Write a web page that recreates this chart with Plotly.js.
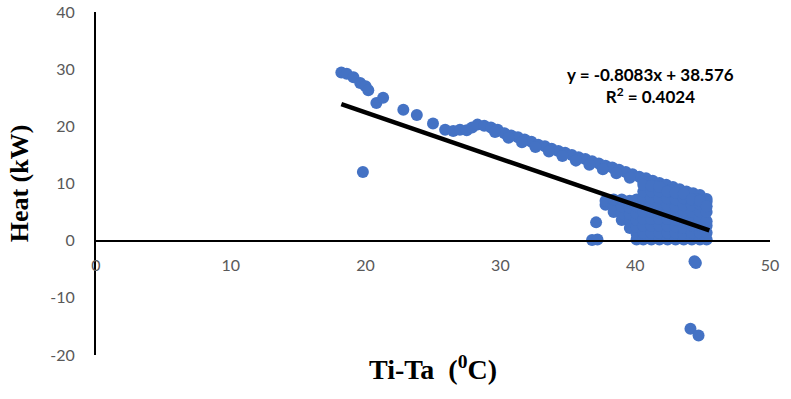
<!DOCTYPE html>
<html>
<head>
<meta charset="utf-8">
<script src="https://cdn.plot.ly/plotly-3.0.1.min.js"></script>
<style>html,body{margin:0;padding:0;background:#fff;}#chart{width:791px;height:399px;}</style>
</head>
<body>
<div id="chart"></div>
<script>
// Ti-Ta (°C) vs Heat (kW)
var sparseX = [18.2, 18.6, 19.1, 19.6, 20.0, 20.2, 20.8, 21.3, 22.8, 23.8, 25.0, 25.9, 26.5, 27.0, 27.5, 27.9, 28.3];
var sparseY = [29.4, 29.2, 28.6, 27.6, 27.0, 26.3, 24.1, 25.0, 22.9, 22.0, 20.5, 19.4, 19.2, 19.4, 19.3, 19.8, 20.3];

var bandX = [28.8, 29.3, 29.8, 30.3, 30.8, 31.3, 31.8, 32.3, 32.8, 33.3, 33.8, 34.3, 34.8, 35.3, 35.8, 36.3, 36.8, 37.3, 37.8, 38.3, 38.8, 39.3, 39.8, 40.3, 40.8, 41.3, 41.8, 42.3, 42.8, 43.3, 43.8, 44.3, 44.8, 45.3,
             29.6, 30.6, 31.6, 32.6, 33.6, 34.6, 35.6, 36.6, 37.6, 38.6, 39.6, 40.6, 41.6, 42.6, 43.6, 44.6, 45.3];
var bandY = [20.1, 19.8, 19.4, 18.8, 18.4, 18.1, 17.7, 17.3, 16.8, 16.5, 16.1, 15.7, 15.4, 15.0, 14.6, 14.3, 13.9, 13.5, 13.1, 12.8, 12.4, 12.0, 11.6, 11.2, 10.9, 10.5, 10.1, 9.8, 9.4, 9.0, 8.6, 8.3, 8.0, 7.3,
             19.0, 18.0, 17.2, 16.4, 15.6, 14.8, 14.0, 13.3, 12.5, 11.8, 11.0, 10.3, 9.5, 8.8, 8.0, 7.3, 6.8];

var clusterX = [37.8, 37.8,
                38.4, 38.4, 38.4,
                39.0, 39.0, 39.0, 39.0,
                39.6, 39.6, 39.6, 39.6, 39.6,
                40.1, 40.1, 40.1, 40.1, 40.1, 40.1, 40.1,
                40.6, 40.6, 40.6, 40.6, 40.6, 40.6, 40.6, 40.6, 40.6,
                41.2, 41.2, 41.2, 41.2, 41.2, 41.2, 41.2, 41.2, 41.2,
                41.8, 41.8, 41.8, 41.8, 41.8, 41.8, 41.8, 41.8, 41.8,
                42.4, 42.4, 42.4, 42.4, 42.4, 42.4, 42.4, 42.4,
                43.0, 43.0, 43.0, 43.0, 43.0, 43.0, 43.0, 43.0,
                43.6, 43.6, 43.6, 43.6, 43.6, 43.6, 43.6, 43.6,
                44.2, 44.2, 44.2, 44.2, 44.2, 44.2, 44.2,
                44.8, 44.8, 44.8, 44.8, 44.8, 44.8, 44.8,
                45.3, 45.3, 45.3, 45.3, 45.3, 45.3];
var clusterY = [6.3, 7.0,
                5.0, 6.2, 7.2,
                3.6, 4.8, 6.0, 7.2,
                2.2, 3.4, 4.6, 5.8, 7.0,
                0.2, 1.2, 2.4, 3.6, 4.8, 6.0, 7.2,
                0.2, 1.4, 2.6, 3.8, 5.0, 6.2, 7.4, 8.6, 9.8,
                0.2, 1.4, 2.6, 3.8, 5.0, 6.2, 7.4, 8.6, 9.6,
                0.2, 1.4, 2.6, 3.8, 5.0, 6.2, 7.4, 8.6, 9.4,
                0.2, 1.4, 2.6, 3.8, 5.0, 6.2, 7.4, 8.6,
                0.2, 1.4, 2.5, 3.6, 4.8, 6.0, 7.2, 8.4,
                0.2, 1.0, 2.2, 4.0, 5.0, 6.2, 7.4, 8.2,
                0.2, 1.4, 2.6, 3.8, 5.0, 6.2, 7.2,
                0.2, 1.4, 2.6, 3.8, 5.1, 6.4, 7.0,
                0.2, 1.4, 2.6, 3.4, 5.0, 6.0];

var outlierX = [19.8, 37.1, 36.8, 37.2, 44.5, 44.4, 44.1, 44.7];
var outlierY = [12.0, 3.2, 0.1, 0.2, -3.9, -3.6, -15.4, -16.6];

// Linear trend line end points (as drawn in the reference)
var trendX = [18.2, 45.5];
var trendY = [23.87, 1.80];

var equationText = 'y = -0.8083x + 38.576<br>R<sup>2</sup> = 0.4024';
var xTicks = [0, 10, 20, 30, 40, 50];
var yTicks = [-20, -10, 0, 10, 20, 30, 40];

var allX = sparseX.concat(bandX, clusterX, outlierX);
var allY = sparseY.concat(bandY, clusterY, outlierY);

var tickFont = {family: 'Lato, "Open Sans", sans-serif', size: 16, color: '#595959'};
var titleFont = {family: '"Liberation Serif", "Times New Roman", serif', size: 26, color: '#000', weight: 'bold'};

var data = [
  {
    x: allX, y: allY, type: 'scatter', mode: 'markers',
    marker: {color: '#4472C4', size: 12},
    showlegend: false, hoverinfo: 'x+y'
  },
  {
    x: trendX, y: trendY, type: 'scatter', mode: 'lines',
    line: {color: '#000000', width: 4.5},
    showlegend: false, hoverinfo: 'skip'
  }
];

var layout = {
  width: 791, height: 399,
  margin: {l: 96, r: 21, t: 12, b: 44},
  paper_bgcolor: '#ffffff', plot_bgcolor: '#ffffff',
  showlegend: false,
  xaxis: {
    range: [0, 50], tickvals: xTicks, ticktext: xTicks.map(String),
    anchor: 'free', position: 1/3,
    showline: true, linecolor: '#000', linewidth: 2,
    ticks: 'outside', ticklen: 10, tickcolor: 'rgba(0,0,0,0)',
    showgrid: false, zeroline: false,
    tickfont: tickFont,
    title: {text: 'Ti-Ta  (<sup>0</sup>C)', font: {family: titleFont.family, size: 28, color: '#000', weight: 'bold'}, standoff: 86}
  },
  yaxis: {
    range: [-20, 40], tickvals: yTicks, ticktext: yTicks.map(String),
    showline: true, linecolor: '#000', linewidth: 2,
    ticks: 'outside', ticklen: 16, tickcolor: 'rgba(0,0,0,0)',
    showgrid: false, zeroline: false,
    tickfont: tickFont,
    title: {text: 'Heat (kW)', font: titleFont, standoff: 14}
  },
  annotations: [
    {
      x: 41.1, y: 27.1, xref: 'x', yref: 'y',
      text: equationText, showarrow: false, align: 'center',
      font: {family: 'Lato, "Open Sans", sans-serif', size: 17, color: '#000', weight: 'bold'}
    }
  ]
};

Plotly.newPlot('chart', data, layout, {staticPlot: true, displayModeBar: false});
</script>
</body>
</html>
